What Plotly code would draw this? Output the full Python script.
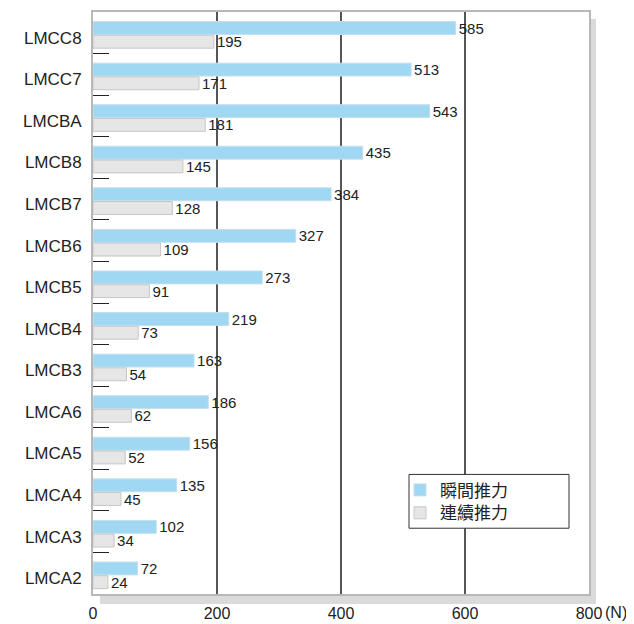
import plotly.graph_objects as go

categories = ["LMCC8", "LMCC7", "LMCBA", "LMCB8", "LMCB7", "LMCB6", "LMCB5",
              "LMCB4", "LMCB3", "LMCA6", "LMCA5", "LMCA4", "LMCA3", "LMCA2"]
peak_force = [585, 513, 543, 435, 384, 327, 273, 219, 163, 186, 156, 135, 102, 72]
cont_force = [195, 171, 181, 145, 128, 109, 91, 73, 54, 62, 52, 45, 34, 24]
x_ticks = [0, 200, 400, 600, 800]
x_ticktext = ["0", "200", "400", "600", "800"]
series_names = ["瞬間推力", "連續推力"]

# page body has an 8px margin; figure is sized to fill the rest of the window
W, H = 626, 616
L, R, T, B = 85, 45, 2, 30
pw, ph = W - L - R, H - T - B
X0, Y0 = 93, 594  # screen position of plot-area left / bottom


def px(xs):
    return (xs - X0) / pw


def py(ys):
    return (Y0 - ys) / ph


FONT = "Liberation Sans, Arial"
fig = go.Figure()
fig.add_trace(go.Bar(
    y=categories, x=peak_force, orientation="h", name=series_names[0],
    marker=dict(color="#a0d8f3", line=dict(color="#c4dfec", width=1)),
    width=0.31, offset=-0.27, legend="legend",
    text=peak_force, textposition="outside", cliponaxis=False, constraintext="none",
    textfont=dict(size=15, color="#222222", family=FONT),
))
fig.add_trace(go.Bar(
    y=categories, x=cont_force, orientation="h", name=series_names[1],
    marker=dict(color="#e6e6e6", line=dict(color="#c6c6c6", width=1)),
    width=0.31, offset=0.06, legend="legend2",
    text=cont_force, textposition="outside", cliponaxis=False, constraintext="none",
    textfont=dict(size=15, color="#222222", family=FONT),
))

# drop shadow around plot area
fig.add_shape(type="rect", xref="paper", yref="paper", layer="below",
              x0=1.0, x1=1 + 7 / pw, y0=-10 / ph, y1=1 - 7 / ph,
              fillcolor="#dadada", line=dict(width=0))
fig.add_shape(type="rect", xref="paper", yref="paper", layer="below",
              x0=7 / pw, x1=1 + 7 / pw, y0=-10 / ph, y1=0,
              fillcolor="#dadada", line=dict(width=0))
# legend frame
fig.add_shape(type="rect", xref="paper", yref="paper", layer="above",
              x0=px(409), x1=px(569), y0=py(528), y1=py(474),
              fillcolor="white", line=dict(color="#333333", width=1))

fig.add_annotation(xref="paper", yref="paper", x=px(603), y=py(613),
                   text="(N)", showarrow=False, xanchor="left", yanchor="middle",
                   font=dict(size=16, color="#222222", family=FONT))

leg_common = dict(xanchor="left", yanchor="middle", bgcolor="rgba(0,0,0,0)",
                  borderwidth=0, itemwidth=30,
                  font=dict(size=17, color="#222222", family="Noto Sans CJK TC"))
fig.update_layout(
    width=W, height=H,
    margin=dict(l=L, r=R, t=T, b=B),
    paper_bgcolor="white", plot_bgcolor="white",
    barmode="overlay",
    showlegend=True,
    legend=dict(x=px(400), y=py(490), **leg_common),
    legend2=dict(x=px(400), y=py(513), **leg_common),
    xaxis=dict(range=[0, 800], tickvals=x_ticks, ticktext=x_ticktext,
               showgrid=True, gridcolor="#555555", gridwidth=1.5,
               zeroline=False, showline=True, linecolor="#b8b8b8", linewidth=2,
               mirror=True, ticks="", ticklabelstandoff=4,
               tickfont=dict(size=16, color="#222222", family=FONT)),
    yaxis=dict(type="category", categoryorder="array", categoryarray=categories,
               autorange="reversed", tickson="boundaries",
               ticks="inside", ticklen=16, tickcolor="#222222", tickwidth=1,
               showline=True, linecolor="#b8b8b8", linewidth=2, mirror=True,
               showgrid=False, ticklabelstandoff=6, ticklabelshift=-5,
               tickfont=dict(size=17, color="#222222", family=FONT)),
    font=dict(family=FONT),
)

fig.write_html("out.html")
